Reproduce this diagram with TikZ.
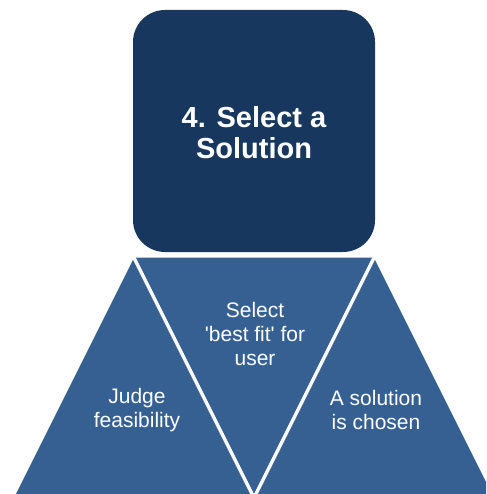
\documentclass[tikz,border=0pt]{standalone}
\usepackage{fontspec}
\setmainfont{Liberation Sans}
\definecolor{darknavy}{HTML}{17375E}
\definecolor{triblue}{HTML}{366092}
\tikzset{
  tri/.style={fill=triblue, draw=white, line width=3.2pt, line join=miter},
  headtxt/.style={text=white, font=\fontsize{29}{31}\selectfont\bfseries, align=center},
  tritxt/.style={text=white, font=\fontsize{21}{24}\selectfont, align=center}
}
\begin{document}
\begin{tikzpicture}[x=1pt,y=-1pt]
\useasboundingbox (0,0) rectangle (486,494);
\clip (0,0) rectangle (486,494);
\fill[white] (0,0) rectangle (486,494);
% header box
\fill[darknavy, rounded corners=32pt] (133,10) rectangle (375,252);
% triangles
\draw[tri] (133,256) -- (375,256) -- (254,498) -- cycle;
\draw[tri] (133,256) -- (12,498) -- (254,498) -- cycle;
\draw[tri] (375,256) -- (254,498) -- (496,498) -- cycle;
% texts
\node[headtxt] (head) at (254,133) {4. Select a\\Solution};
\node[tritxt] (mid) at (255,334) {Select\\\textquotesingle best fit\textquotesingle\ for\\user};
\node[tritxt] (left) at (137,410) {Judge\\feasibility};
\node[tritxt] (right) at (376,410) {A solution\\is chosen};
\end{tikzpicture}
\end{document}
